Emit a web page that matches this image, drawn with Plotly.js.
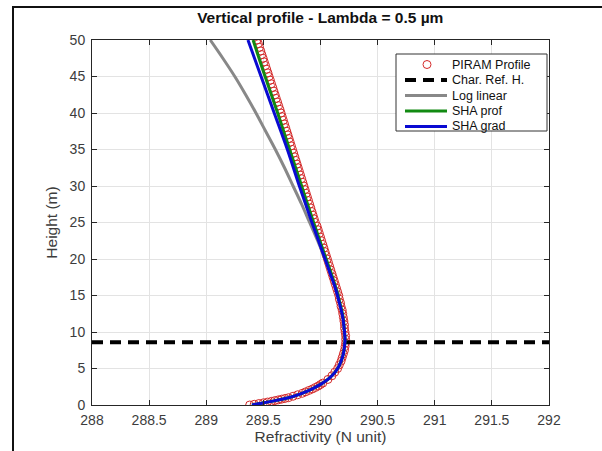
<!DOCTYPE html>
<html>
<head>
<meta charset="utf-8">
<script src="https://cdn.plot.ly/plotly-3.0.1.min.js"></script>
<style>
  html, body { margin: 0; padding: 0; background: #fff; }
  #wrap { position: relative; width: 602px; height: 451px; overflow: hidden; }
  #chart { position: absolute; left: 0; top: 0; width: 602px; height: 451px; }
  #frame { position: absolute; left: 12px; top: 6px; width: 700px; height: 600px;
           border-left: 2px solid #111; border-top: 2px solid #111; pointer-events: none; }
</style>
</head>
<body>
<div id="wrap">
  <div id="chart"></div>
  <div id="frame"></div>
</div>
<script>
// PIRAM profile (height m, refractivity N)
const piramHeight = [0,0.1,0.2,0.3,0.4,0.5,0.6,0.7,0.8,0.9,1.0,1.2,1.4,1.6,1.8,2.0,2.2,2.4,2.6,2.8,3.0,
  3.5,4,4.5,5,5.5,6,6.5,7,7.5,8,8.5,9,9.5,10,10.5,11,11.5,12,12.5,13,13.5,14,14.5,15,15.5,16,16.5,17,17.5,
  18,18.5,19,19.5,20,20.5,21,21.5,22,22.5,23,23.5,24,24.5,25,25.5,26,26.5,27,27.5,28,28.5,29,29.5,30,
  30.5,31,31.5,32,32.5,33,33.5,34,34.5,35,35.5,36,36.5,37,37.5,38,38.5,39,39.5,40,
  40.5,41,41.5,42,42.5,43,43.5,44,44.5,45,45.5,46,46.5,47,47.5,48,48.5,49,49.5,50];
const piramRefr = [289.38,289.42,289.46,289.50,289.535,289.57,289.60,289.63,289.66,289.69,289.72,289.76,289.80,289.84,289.87,289.90,289.93,289.955,289.98,290.00,290.02,
  290.065,290.10,290.125,290.15,290.165,290.18,290.19,290.20,290.21,290.215,290.22,290.22,290.22,290.215,290.21,290.21,290.205,290.20,290.195,290.19,290.18,290.175,290.165,290.16,290.15,290.14,290.13,290.12,290.11,
  290.10,290.09,290.08,290.07,290.06,290.05,290.04,290.03,290.02,290.01,290.00,289.99,289.98,289.97,289.955,289.945,289.935,289.925,289.915,289.905,289.895,289.885,289.875,289.865,289.855,
  289.845,289.835,289.825,289.815,289.805,289.795,289.785,289.775,289.765,289.755,289.745,289.735,289.725,289.715,289.705,289.695,289.685,289.675,289.665,289.655,
  289.645,289.634,289.624,289.613,289.603,289.592,289.582,289.571,289.561,289.55,289.54,289.529,289.519,289.508,289.498,289.487,289.477,289.466,289.456,289.445];

// Characteristic reference height (m)
const charRefHeight = 8.6;
const charRefX = [288, 292];

// Log linear fit
const logHeight = [15,17.5,20,22.5,25,27.5,30,32.5,35,37.5,40,42.5,45,47.5,50];
const logRefr   = [290.16,290.10,290.04,289.975,289.905,289.835,289.76,289.685,289.605,289.52,289.435,289.345,289.25,289.145,289.035];

// SHA profiles
const shaHeight = [0,0.2,0.5,1,1.5,2,3,4,5,6,7,8,9,10,12,14,16,18,20,25,30,35,40,45,50];
const shaProfRefr = [289.40,289.47,289.57,289.72,289.82,289.90,290.02,290.10,290.15,290.18,290.20,290.21,290.215,290.21,290.198,290.17,290.135,290.095,290.05,289.94,289.835,289.73,289.625,289.515,289.41];
const shaGradRefr = [289.40,289.47,289.57,289.72,289.82,289.90,290.02,290.10,290.15,290.18,290.20,290.21,290.215,290.21,290.195,290.165,290.13,290.085,290.04,289.925,289.815,289.71,289.595,289.48,289.365];

const seriesNames = ['PIRAM Profile', 'Char. Ref. H.', 'Log linear', 'SHA prof', 'SHA grad'];
const xTicks = [288,288.5,289,289.5,290,290.5,291,291.5,292];
const xTickText = ['288','288.5','289','289.5','290','290.5','291','291.5','292'];
const yTicks = [0,5,10,15,20,25,30,35,40,45,50];

const FONT = 'Liberation Sans, Arial, Helvetica, sans-serif';
const RED = '#d42a2a', GRAY = '#888888', GREEN = '#128a12', BLUE = '#0a0ad2';
const DASH = '11px,7px';

const traces = [
  { x: piramRefr, y: piramHeight, type: 'scatter', mode: 'markers', name: seriesNames[0],
    marker: { symbol: 'circle-open', size: 8, color: RED, line: { width: 1, color: RED } } },
  { x: charRefX, y: [charRefHeight, charRefHeight], type: 'scatter', mode: 'lines', name: seriesNames[1],
    line: { color: '#000', width: 4, dash: DASH } },
  { x: logRefr, y: logHeight, type: 'scatter', mode: 'lines', name: seriesNames[2],
    line: { color: GRAY, width: 3, shape: 'spline' } },
  { x: shaProfRefr, y: shaHeight, type: 'scatter', mode: 'lines', name: seriesNames[3],
    line: { color: GREEN, width: 3, shape: 'spline' } },
  { x: shaGradRefr, y: shaHeight, type: 'scatter', mode: 'lines', name: seriesNames[4],
    line: { color: BLUE, width: 3, shape: 'spline' } }
];

// --- Legend (MATLAB-style, compact), positioned in paper coordinates ---
const M = { l: 92, r: 53, t: 40, b: 46 };
const PW = 602 - M.l - M.r, PH = 451 - M.t - M.b;
const px = v => (v - M.l) / PW;
const py = v => (451 - M.b - v) / PH;
const legBox = { x0: 396, x1: 547, y0: 54, y1: 131 };
const rowY = [64.5, 80, 95.5, 111, 126.5];
const sampleX0 = 405, sampleX1 = 447, textX = 450;
const shapes = [
  { type: 'rect', xref: 'paper', yref: 'paper', x0: px(legBox.x0), x1: px(legBox.x1), y0: py(legBox.y1), y1: py(legBox.y0),
    fillcolor: '#ffffff', line: { color: '#333333', width: 1 }, layer: 'above' },
  { type: 'circle', xref: 'paper', yref: 'paper', xsizemode: 'pixel', ysizemode: 'pixel',
    xanchor: px(427), yanchor: py(rowY[0]), x0: -4, x1: 4, y0: -4, y1: 4,
    line: { color: RED, width: 1 }, fillcolor: 'rgba(0,0,0,0)', layer: 'above' }
];
const legLines = [[1, '#000', 4, DASH], [2, GRAY, 3, 'solid'], [3, GREEN, 3, 'solid'], [4, BLUE, 3, 'solid']];
legLines.forEach(([i, c, w, d]) => {
  shapes.push({ type: 'line', xref: 'paper', yref: 'paper', x0: px(sampleX0), x1: px(sampleX1),
    y0: py(rowY[i]), y1: py(rowY[i]), line: { color: c, width: w, dash: d }, layer: 'above' });
});
const annotations = seriesNames.map((n, i) => ({
  xref: 'paper', yref: 'paper', x: px(textX), y: py(rowY[i]), xanchor: 'left', yanchor: 'middle',
  text: n, showarrow: false, font: { family: FONT, size: 12.5, color: '#111' }
}));

const axisCommon = {
  showline: true, linecolor: '#262626', linewidth: 1, mirror: 'ticks',
  ticks: 'inside', ticklen: 5, tickcolor: '#262626', tickwidth: 1,
  showgrid: true, gridcolor: '#e3e3e3', gridwidth: 1, zeroline: false,
  tickfont: { family: FONT, size: 14, color: '#3c3c3c' }
};

const layout = {
  width: 602, height: 451,
  margin: M,
  paper_bgcolor: '#ffffff', plot_bgcolor: '#ffffff',
  showlegend: false,
  title: { text: '<b>Vertical profile - Lambda = 0.5 µm</b>', font: { family: FONT, size: 15.5, color: '#111' },
           x: 0.532, xanchor: 'center', y: 0.962, yanchor: 'middle' },
  xaxis: Object.assign({}, axisCommon, {
    range: [288, 292], tickvals: xTicks, ticktext: xTickText, ticklabelstandoff: 2,
    title: { text: 'Refractivity (N unit)', font: { family: FONT, size: 15.5, color: '#3c3c3c' }, standoff: 3 }
  }),
  yaxis: Object.assign({}, axisCommon, {
    range: [0, 50], tickvals: yTicks, ticklabelstandoff: 3,
    title: { text: 'Height (m)', font: { family: FONT, size: 15.5, color: '#3c3c3c' }, standoff: 8 }
  }),
  shapes: shapes,
  annotations: annotations
};

Plotly.newPlot('chart', traces, layout, { displayModeBar: false, staticPlot: true });
</script>
</body>
</html>
